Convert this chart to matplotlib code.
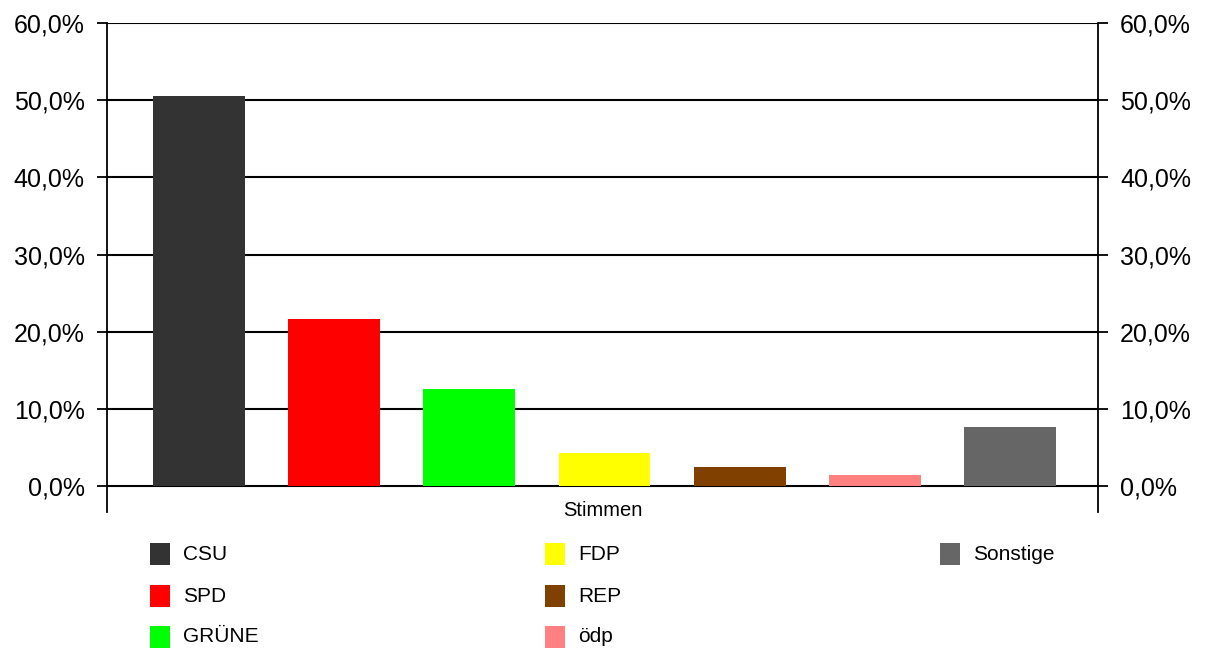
import matplotlib.pyplot as plt
from matplotlib.patches import Rectangle

plt.rcParams['font.family'] = ['Liberation Sans', 'DejaVu Sans']

# Daten
parteien = ['CSU', 'SPD', 'GRÜNE', 'FDP', 'REP', 'ödp', 'Sonstige']
anteile = [50.5, 21.7, 12.6, 4.3, 2.5, 1.4, 7.6]
farben = ['#333333', '#ff0000', '#00ff00', '#ffff00', '#804000', '#ff8080', '#666666']
kategorie = 'Stimmen'
yticks = [0, 10, 20, 30, 40, 50, 60]
ytick_labels = ['0,0%', '10,0%', '20,0%', '30,0%', '40,0%', '50,0%', '60,0%']

W, H = 1205, 653
fig = plt.figure(figsize=(W / 100, H / 100), dpi=100)
ax = fig.add_axes([107 / W, (H - 512) / H, 991 / W, (512 - 23) / H])

x = list(range(len(parteien)))
ax.bar(x, anteile, width=0.68, color=farben, zorder=3)

ax.set_xlim(-0.68, 6.65)
ax.set_ylim(-3.35, 60)

# Gitterlinien
for y in yticks:
    ax.axhline(y, color='black', linewidth=1.5, zorder=2)

ax.set_yticks(yticks)
ax.set_yticklabels(ytick_labels)
ax.tick_params(axis='y', which='both', direction='out', length=7, width=1.3,
               labelsize=18, pad=9, right=True, labelright=True, colors='black')
ax.set_xticks([])

for s in ['top', 'bottom']:
    ax.spines[s].set_visible(False)
for s in ['left', 'right']:
    ax.spines[s].set_linewidth(1.3)

# Kategorie-Beschriftung
fig.text(603 / W, (H - 511) / H, kategorie, ha='center', va='center', fontsize=14.5)

# Legende (manuell, drei Spalten)
spalten_x = [150, 545, 940]
zeilen_y = [554, 596, 637]
for i, (name, farbe) in enumerate(zip(parteien, farben)):
    sp, ze = i // 3, i % 3
    x0 = spalten_x[sp]
    y0 = zeilen_y[ze]
    fig.patches.append(Rectangle((x0 / W, (H - y0 - 11) / H), 20 / W, 22 / H,
                                 transform=fig.transFigure, facecolor=farbe,
                                 edgecolor='none', figure=fig))
    fig.text((x0 + 33) / W, (H - y0) / H, name, ha='left', va='center', fontsize=15)

fig.savefig('out.png', dpi=100)
